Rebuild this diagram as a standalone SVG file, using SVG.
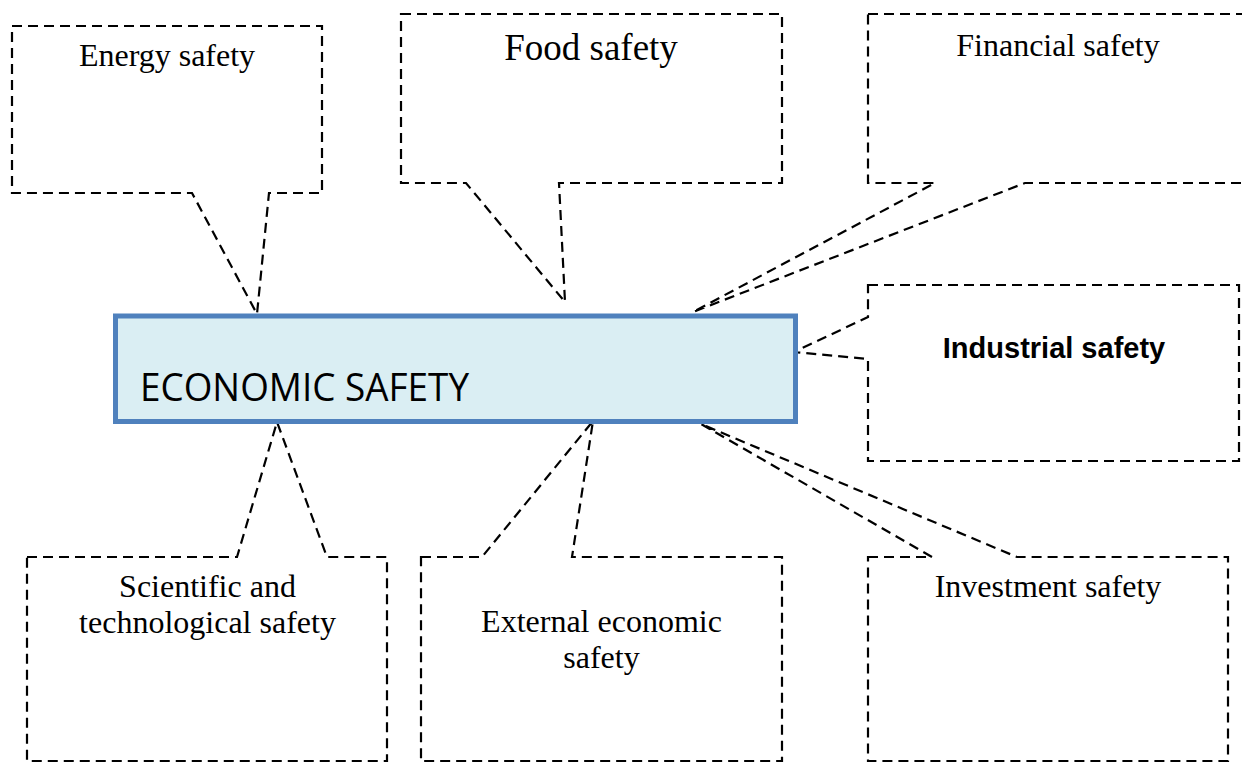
<svg xmlns="http://www.w3.org/2000/svg" width="1242" height="763" viewBox="0 0 1242 763">
<style>
.callout{fill:#ffffff;stroke:#000000;stroke-width:2.2;stroke-dasharray:10 6;stroke-linejoin:miter}
.t{font-family:"Liberation Serif","Times New Roman",serif;font-size:32px;fill:#000000;text-anchor:middle}
.b{font-family:"Liberation Sans",Arial,sans-serif;font-size:29px;font-weight:bold;fill:#000000;text-anchor:middle}
.main{fill:#DAEEF3;stroke:#4F81BD;stroke-width:5}
.mt{font-family:"Open Sans","Liberation Sans",sans-serif;font-size:38px;fill:#000000}
</style>
<rect width="1242" height="763" fill="#ffffff"/>
<g id="connectors"></g>
<g id="energy">
<path class="callout" d="M12,26 H322 V193 H269 L257,314 L192,193 H12 Z"/>
<text class="t" x="167" y="65.5">Energy safety</text>
</g>
<g id="food">
<path class="callout" d="M401,14 H782 V183 H559 L565,302 L466,183 H401 Z"/>
<text class="t" x="591" y="60" style="font-size:37px">Food safety</text>
</g>
<g id="financial">
<path class="callout" d="M868,14 H1250 V183 H1025 L693,312 L935,183 H868 Z"/>
<text class="t" x="1058" y="55.5">Financial safety</text>
</g>
<g id="industrial">
<path class="callout" d="M868,285 H1239 V461 H868 V359 L794,352 L868,317 Z"/>
<text class="b" x="1054" y="358">Industrial safety</text>
</g>
<g id="scientific">
<path class="callout" d="M27,557 H237 L277,422 L327,557 H387 V761 H27 Z"/>
<text class="t" x="207.5" y="597">Scientific and</text>
<text class="t" x="207.5" y="633">technological safety</text>
</g>
<g id="external">
<path class="callout" d="M421,557 H482 L593,421 L572,557 H782 V761 H421 Z"/>
<text class="t" x="601.5" y="632">External economic</text>
<text class="t" x="601.5" y="668">safety</text>
</g>
<g id="investment">
<path class="callout" d="M868,557 H932 L701,424 L1017,557 H1228 V761 H868 Z"/>
<text class="t" x="1048" y="596.5">Investment safety</text>
</g>
<g id="economic">
<rect class="main" x="115.5" y="316" width="680" height="105.5"/>
<text class="mt" x="140" y="401" textLength="329" lengthAdjust="spacingAndGlyphs">ECONOMIC SAFETY</text>
</g>
</svg>
